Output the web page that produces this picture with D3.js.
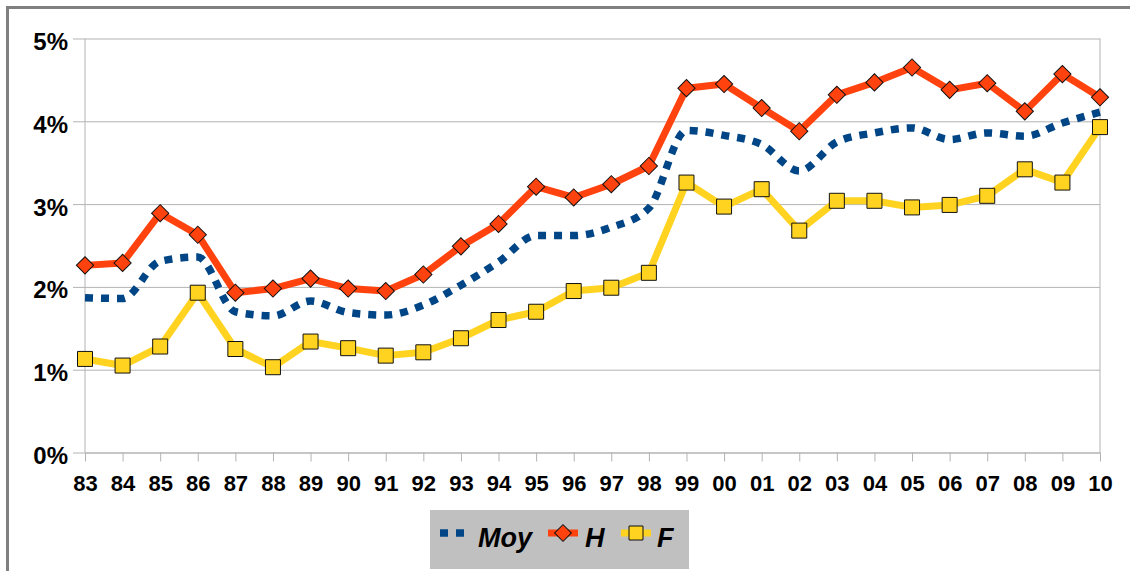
<!DOCTYPE html>
<html>
<head>
<meta charset="utf-8">
<script src="https://cdn.jsdelivr.net/npm/d3@7"></script>
<style>
  body { margin: 0; background: #fff; }
  svg { display: block; font-family: "Liberation Sans", Arial, sans-serif; }
</style>
</head>
<body>
<div id="chart"></div>
<script>
// years on the x axis
var years = ["83","84","85","86","87","88","89","90","91","92","93","94","95","96","97","98","99",
             "00","01","02","03","04","05","06","07","08","09","10"];
// values in percent
var moy = [1.87,1.86,2.31,2.36,1.70,1.65,1.83,1.69,1.66,1.78,2.02,2.30,2.62,2.62,2.72,2.95,3.89,
           3.83,3.72,3.40,3.75,3.86,3.92,3.78,3.86,3.82,3.98,4.11];
var hom = [2.26,2.29,2.89,2.63,1.93,1.98,2.10,1.98,1.95,2.15,2.49,2.76,3.21,3.08,3.24,3.46,4.40,
           4.45,4.16,3.88,4.32,4.47,4.65,4.38,4.46,4.12,4.57,4.29];
var fem = [1.13,1.05,1.28,1.93,1.25,1.03,1.34,1.26,1.17,1.21,1.38,1.60,1.70,1.95,1.99,2.17,3.26,
           2.97,3.18,2.68,3.04,3.04,2.96,2.99,3.10,3.42,3.26,3.93];
var yTicks = [0, 1, 2, 3, 4, 5];
var seriesNames = ["Moy", "H", "F"];

var width = 1130, height = 571;
var plotLeft = 85, plotRight = 1100, plotTop = 38.5, plotBottom = 452.5;

var svg = d3.select("#chart").append("svg")
    .attr("width", width)
    .attr("height", height);

// outer frame
svg.append("rect")
    .attr("x", 7.5).attr("y", 7.5)
    .attr("width", width + 20).attr("height", height + 20)
    .attr("fill", "none").attr("stroke", "#808080").attr("stroke-width", 3);

var x = d3.scalePoint().domain(years).range([plotLeft, plotRight]);
var y = d3.scaleLinear().domain([0, 5]).range([plotBottom, plotTop]);

// y axis with gridlines
var yAxis = svg.append("g")
    .attr("transform", "translate(" + plotRight + ",0)")
    .call(d3.axisLeft(y).tickValues(yTicks).tickSize(plotRight - 73).tickPadding(5)
        .tickFormat(function(d) { return d + "%"; }));
yAxis.select(".domain").remove();
yAxis.selectAll("line").attr("stroke", "#b3b3b3");
yAxis.selectAll("text")
    .attr("dy", "0.46em")
    .attr("fill", "#000")
    .style("font-size", "24px").style("font-weight", "bold");

// x axis
var xAxis = svg.append("g")
    .attr("transform", "translate(0," + plotBottom + ")")
    .call(d3.axisBottom(x).tickSize(9).tickSizeOuter(0).tickPadding(14));
xAxis.select(".domain").attr("stroke", "#b3b3b3");
xAxis.selectAll("line").attr("stroke", "#b3b3b3");
xAxis.selectAll("text")
    .attr("fill", "#000")
    .style("font-size", "22px").style("font-weight", "bold");

// plot frame sides
svg.append("g").selectAll("line").data([plotLeft, plotRight]).enter().append("line")
    .attr("x1", function(d) { return d; }).attr("x2", function(d) { return d; })
    .attr("y1", plotTop).attr("y2", plotBottom)
    .attr("stroke", "#b3b3b3");

var series = [
    {name: seriesNames[0], values: moy, color: "#004586", marker: null},
    {name: seriesNames[1], values: hom, color: "#ff420e", marker: "diamond"},
    {name: seriesNames[2], values: fem, color: "#ffd320", marker: "square"}
];

var lineLinear = d3.line()
    .x(function(d, i) { return x(years[i]); })
    .y(function(d) { return y(d); });
var lineSmooth = d3.line()
    .x(function(d, i) { return x(years[i]); })
    .y(function(d) { return y(d); })
    .curve(d3.curveMonotoneX);

function markerPath(type, big) {
    if (type == "diamond") return d3.symbol().type(d3.symbolSquare).size(big ? 148 : 140)();
    return d3.symbol().type(d3.symbolSquare).size(big ? 225 : 196)();
}

series.forEach(function(s) {
    var g = svg.append("g");
    if (s.marker == null) {
        g.append("path")
            .attr("d", lineSmooth(s.values))
            .attr("fill", "none")
            .attr("stroke", s.color)
            .attr("stroke-width", 7.5)
            .attr("stroke-dasharray", "8,8");
    } else {
        g.append("path")
            .attr("d", lineLinear(s.values))
            .attr("fill", "none")
            .attr("stroke", s.color)
            .attr("stroke-width", 7)
            .attr("stroke-linejoin", "round");
        g.selectAll("path.m").data(s.values).enter().append("path")
            .attr("class", "m")
            .attr("d", markerPath(s.marker, true))
            .attr("transform", function(d, i) {
                return "translate(" + x(years[i]) + "," + y(d) + ")" + (s.marker == "diamond" ? " rotate(45)" : "");
            })
            .attr("fill", s.color)
            .attr("stroke", "#111")
            .attr("stroke-width", 1);
    }
});

// legend
var legend = svg.append("g");
legend.append("rect")
    .attr("x", 430).attr("y", 510).attr("width", 259).attr("height", 59)
    .attr("fill", "#c0c0c0");

var legendPos = [440, 548, 621];
var legendText = [478, 585, 657];
series.forEach(function(s, i) {
    var lx = legendPos[i], ly = 533;
    if (s.marker == null) {
        legend.append("line")
            .attr("x1", lx).attr("x2", lx + 25).attr("y1", ly).attr("y2", ly)
            .attr("stroke", s.color).attr("stroke-width", 7.5)
            .attr("stroke-dasharray", "8,8");
    } else {
        legend.append("line")
            .attr("x1", lx).attr("x2", lx + 30).attr("y1", ly).attr("y2", ly)
            .attr("stroke", s.color).attr("stroke-width", 7);
        legend.append("path")
            .attr("d", markerPath(s.marker, false))
            .attr("transform", "translate(" + (lx + 15) + "," + ly + ")" + (s.marker == "diamond" ? " rotate(45)" : ""))
            .attr("fill", s.color).attr("stroke", "#111").attr("stroke-width", 1);
    }
    legend.append("text")
        .attr("x", legendText[i]).attr("y", 546.5)
        .style("font-size", "27px").style("font-weight", "bold").style("font-style", "italic")
        .text(s.name);
});
</script>
</body>
</html>
